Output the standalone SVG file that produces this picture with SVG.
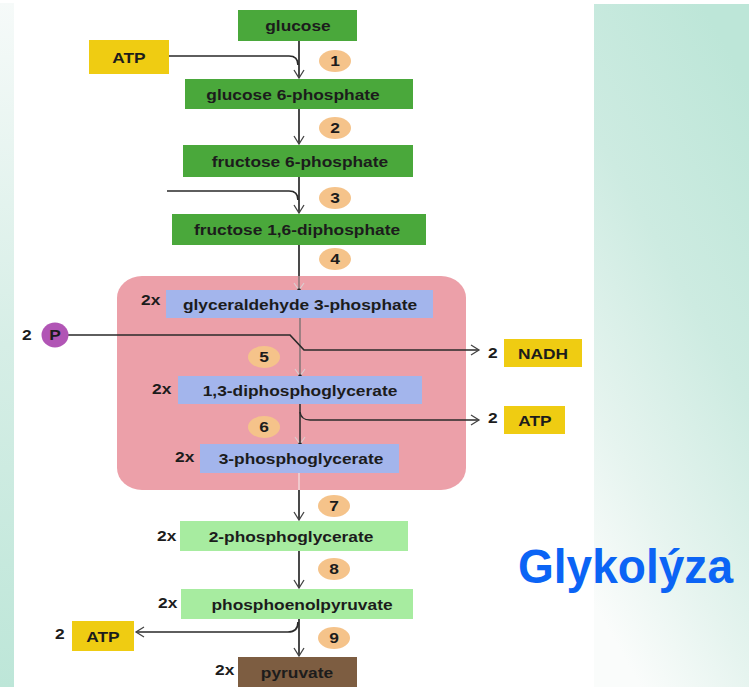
<svg xmlns="http://www.w3.org/2000/svg" width="749" height="687" viewBox="0 0 749 687">
  <defs>
    <linearGradient id="panelRight" x1="0.7" y1="0" x2="0.3" y2="1">
      <stop offset="0" stop-color="#bde6d8"/>
      <stop offset="0.4" stop-color="#cdebe1"/>
      <stop offset="0.75" stop-color="#e6f4ef"/>
      <stop offset="1" stop-color="#fafcfb"/>
    </linearGradient>
    <linearGradient id="panelLeft" x1="0" y1="0" x2="0" y2="1">
      <stop offset="0" stop-color="#f6faf9"/>
      <stop offset="0.5" stop-color="#d6eee6"/>
      <stop offset="1" stop-color="#bde6d8"/>
    </linearGradient>
    <marker id="arrow" markerUnits="userSpaceOnUse" markerWidth="20" markerHeight="20" refX="0" refY="0" viewBox="-10 -10 20 20" orient="auto" overflow="visible">
      <path d="M-8,-5 L0,0 L-8,5" fill="none" stroke="#444" stroke-width="1.3"/>
    </marker>
    <marker id="dot" markerUnits="userSpaceOnUse" markerWidth="20" markerHeight="20" refX="0" refY="0" viewBox="-10 -10 20 20" orient="auto" overflow="visible">
      <path d="M-7,-5 L0,0 L-7,5" fill="none" stroke="#d8d0d2" stroke-width="1.1"/>
      <circle cx="0" cy="0" r="1.8" fill="#222"/>
    </marker>
    <style>
      .t { font-family: "Liberation Sans", Arial, sans-serif; font-size: 14px; font-weight: bold; fill: #1c1c1c; }
      .c { text-anchor: middle; }
      .dark { fill: #4aa83b; }
      .yel { fill: #efcc12; }
      .blue { fill: #a3b5ec; }
      .lgreen { fill: #a7eca0; }
      .num { fill: #f5c38a; }
      .ln { fill: none; stroke: #2a2a2a; stroke-width: 1.7; }
      .lnin { fill: none; stroke: #6a6a6a; stroke-width: 1.2; }
      .lnlight { fill: none; stroke: #f4e4e6; stroke-width: 1.2; }
    </style>
  </defs>

  <!-- background -->
  <rect x="0" y="0" width="749" height="687" fill="#ffffff"/>
  <rect x="0" y="3" width="14" height="684" fill="url(#panelLeft)"/>
  <rect x="594" y="4" width="155" height="683" fill="url(#panelRight)"/>

  <!-- cytoplasmic two-carbon stage -->
  <rect id="stage-c3" x="117" y="276" width="349" height="214" rx="25" ry="22" fill="#eca0a9"/>

  <!-- connectors -->
  <g id="connectors">
    <path class="ln" d="M299,41 V78" marker-end="url(#arrow)"/>
    <path class="ln" d="M169,56 H289 Q298,56 298,65"/>
    <path class="ln" d="M299,109 V144" marker-end="url(#arrow)"/>
    <path class="ln" d="M299,177 V213" marker-end="url(#arrow)"/>
    <path class="ln" d="M167,191 H289 Q298,191 298,200"/>
    <path class="ln" d="M299,245 V276"/>
    <path class="lnin" d="M299,276 V290" marker-end="url(#dot)"/>
    <path class="lnin" d="M300,318 V376" marker-end="url(#dot)"/>
    <path class="ln" d="M68,335 H290 L304,350 H479" marker-end="url(#arrow)"/>
    <path class="ln" style="stroke-width:1.5" d="M300,404 V444" marker-end="url(#dot)"/>
    <path class="ln" style="stroke-width:1.5" d="M300,412 Q301,420 310,420 H479" marker-end="url(#arrow)"/>
    <path class="lnlight" d="M299,473 V490"/>
    <path class="ln" d="M299,490 V520" marker-end="url(#arrow)"/>
    <path class="ln" d="M299,551 V588" marker-end="url(#arrow)"/>
    <path class="ln" d="M299,619 V656" marker-end="url(#arrow)"/>
    <path class="ln" d="M298,622 Q298,632 288,632 H136" marker-end="url(#arrow)"/>
  </g>

  <!-- metabolites -->
  <g id="glucose">
    <rect class="dark" x="238" y="10" width="119" height="31"/>
    <text class="t c" transform="translate(298 30.5) scale(1.24 1)">glucose</text>
  </g>
  <g id="atp-in-1">
    <rect class="yel" x="89" y="40" width="80" height="34"/>
    <text class="t c" transform="translate(129 62.5) scale(1.24 1)">ATP</text>
  </g>
  <g id="glucose-6-phosphate">
    <rect class="dark" x="185" y="79" width="228" height="30"/>
    <text class="t c" transform="translate(293 99.5) scale(1.24 1)">glucose 6-phosphate</text>
  </g>
  <g id="fructose-6-phosphate">
    <rect class="dark" x="183" y="145" width="230" height="32"/>
    <text class="t c" transform="translate(300 166.5) scale(1.24 1)">fructose 6-phosphate</text>
  </g>
  <g id="fructose-16-diphosphate">
    <rect class="dark" x="172" y="214" width="254" height="31"/>
    <text class="t c" transform="translate(297 234.5) scale(1.24 1)">fructose 1,6-diphosphate</text>
  </g>
  <g id="glyceraldehyde-3-phosphate">
    <text class="t" transform="translate(141 305) scale(1.24 1)">2x</text>
    <rect class="blue" x="166" y="290" width="267" height="28"/>
    <text class="t c" transform="translate(300 309.5) scale(1.24 1)">glyceraldehyde 3-phosphate</text>
  </g>
  <g id="phosphate-in">
    <text class="t" transform="translate(22 340) scale(1.24 1)">2</text>
    <ellipse cx="55" cy="335" rx="13.5" ry="12.5" fill="#b155b5"/>
    <text class="t c" transform="translate(55 340) scale(1.24 1)">P</text>
  </g>
  <g id="nadh-out">
    <text class="t" transform="translate(488 358) scale(1.24 1)">2</text>
    <rect class="yel" x="504" y="339" width="78" height="28"/>
    <text class="t c" transform="translate(543 358.5) scale(1.24 1)">NADH</text>
  </g>
  <g id="diphosphoglycerate-13">
    <text class="t" transform="translate(152 394) scale(1.24 1)">2x</text>
    <rect class="blue" x="178" y="376" width="244" height="28"/>
    <text class="t c" transform="translate(300 395.5) scale(1.24 1)">1,3-diphosphoglycerate</text>
  </g>
  <g id="atp-out-6">
    <text class="t" transform="translate(488 423) scale(1.24 1)">2</text>
    <rect class="yel" x="504" y="406" width="61" height="28"/>
    <text class="t c" transform="translate(535 425.5) scale(1.24 1)">ATP</text>
  </g>
  <g id="phosphoglycerate-3">
    <text class="t" transform="translate(175 462) scale(1.24 1)">2x</text>
    <rect class="blue" x="200" y="444" width="199" height="29"/>
    <text class="t c" transform="translate(301 463.5) scale(1.24 1)">3-phosphoglycerate</text>
  </g>
  <g id="phosphoglycerate-2">
    <text class="t" transform="translate(157 541) scale(1.24 1)">2x</text>
    <rect class="lgreen" x="180" y="521" width="228" height="30"/>
    <text class="t c" transform="translate(291 541.5) scale(1.24 1)">2-phosphoglycerate</text>
  </g>
  <g id="phosphoenolpyruvate">
    <text class="t" transform="translate(158 608) scale(1.24 1)">2x</text>
    <rect class="lgreen" x="181" y="589" width="232" height="30"/>
    <text class="t c" transform="translate(302 609.5) scale(1.24 1)">phosphoenolpyruvate</text>
  </g>
  <g id="atp-out-9">
    <text class="t" transform="translate(55 639) scale(1.24 1)">2</text>
    <rect class="yel" x="72" y="621" width="62" height="30"/>
    <text class="t c" transform="translate(103 641.5) scale(1.24 1)">ATP</text>
  </g>
  <g id="pyruvate">
    <text class="t" transform="translate(215 675) scale(1.24 1)">2x</text>
    <rect x="238" y="657" width="119" height="30" fill="#7d5d41"/>
    <text class="t c" transform="translate(297 677.5) scale(1.24 1)">pyruvate</text>
  </g>

  <!-- reaction steps -->
  <g id="steps">
    <g id="step-1"><ellipse class="num" cx="335" cy="61" rx="16" ry="11"/><text class="t c" transform="translate(335 66) scale(1.24 1)">1</text></g>
    <g id="step-2"><ellipse class="num" cx="335" cy="128" rx="16" ry="11"/><text class="t c" transform="translate(335 133) scale(1.24 1)">2</text></g>
    <g id="step-3"><ellipse class="num" cx="335" cy="198" rx="16" ry="11"/><text class="t c" transform="translate(335 203) scale(1.24 1)">3</text></g>
    <g id="step-4"><ellipse class="num" cx="335" cy="259" rx="16" ry="11"/><text class="t c" transform="translate(335 264) scale(1.24 1)">4</text></g>
    <g id="step-5"><ellipse class="num" cx="264" cy="357" rx="16" ry="11"/><text class="t c" transform="translate(264 362) scale(1.24 1)">5</text></g>
    <g id="step-6"><ellipse class="num" cx="264" cy="427" rx="16" ry="11"/><text class="t c" transform="translate(264 432) scale(1.24 1)">6</text></g>
    <g id="step-7"><ellipse class="num" cx="334" cy="506" rx="16" ry="11"/><text class="t c" transform="translate(334 511) scale(1.24 1)">7</text></g>
    <g id="step-8"><ellipse class="num" cx="334" cy="569" rx="16" ry="11"/><text class="t c" transform="translate(334 574) scale(1.24 1)">8</text></g>
    <g id="step-9"><ellipse class="num" cx="334" cy="638" rx="16" ry="11"/><text class="t c" transform="translate(334 643) scale(1.24 1)">9</text></g>
  </g>

  <!-- title -->
  <text id="title" x="518" y="583" textLength="215" lengthAdjust="spacingAndGlyphs" style="font-family:'Liberation Sans', Arial, sans-serif; font-size:48px; font-weight:bold; fill:#0b64f5;">Glykolýza</text>
</svg>
